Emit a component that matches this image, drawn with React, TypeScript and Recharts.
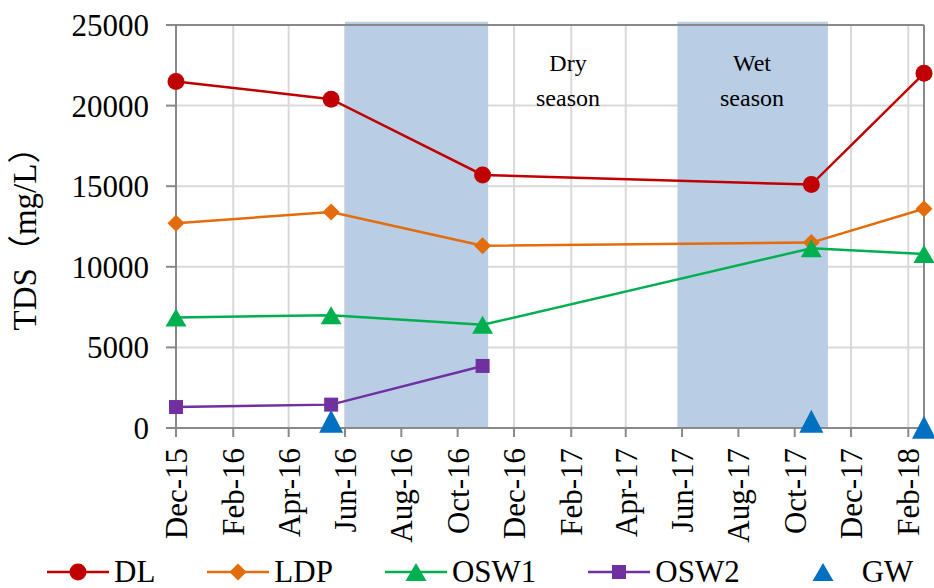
import React from 'react'
import {
  LineChart,
  Line,
  XAxis,
  YAxis,
  CartesianGrid,
  ReferenceArea,
  ReferenceLine,
} from 'recharts'

const sampleDates = ['2015-12-01', '2016-05-17', '2016-10-28', '2017-10-19', '2018-02-18']
const dl = [21500, 20400, 15700, 15100, 22000]
const ldp = [12700, 13400, 11300, 11500, 13600]
const osw1 = [6850, 7000, 6400, 11150, 10800]
const osw2 = [1300, 1450, 3850, null, null]
const gw = [null, 420, null, 420, 40]

const xTicks = [
  '2015-12-01', '2016-02-01', '2016-04-01', '2016-06-01', '2016-08-01', '2016-10-01', '2016-12-01',
  '2017-02-01', '2017-04-01', '2017-06-01', '2017-08-01', '2017-10-01', '2017-12-01', '2018-02-01',
]
const yTicks = [0, 5000, 10000, 15000, 20000, 25000]
const wetSeasons = [
  ['2016-06-01', '2016-11-03'],
  ['2017-05-27', '2017-11-06'],
]

const MONTHS = ['Jan', 'Feb', 'Mar', 'Apr', 'May', 'Jun', 'Jul', 'Aug', 'Sep', 'Oct', 'Nov', 'Dec']
const FONT = "'Liberation Serif', 'Times New Roman', 'Noto Sans CJK SC', serif"
const AXIS = '#898989'
const GRID = '#D9D9D9'
const SHADE = '#B9CDE4'

const ts = (d: string) => Date.parse(d + 'T00:00:00Z')

const data = sampleDates.map((d, i) => ({
  t: ts(d),
  DL: dl[i],
  LDP: ldp[i],
  OSW1: osw1[i],
  OSW2: osw2[i],
  GW: gw[i],
}))

type Shape = 'circle' | 'diamond' | 'triangle' | 'square' | 'bigTriangle'

function marker(shape: Shape, color: string, cx: number, cy: number, key?: React.Key) {
  switch (shape) {
    case 'circle':
      return <circle key={key} cx={cx} cy={cy} r={8.5} fill={color} />
    case 'diamond':
      return (
        <polygon key={key} fill={color}
          points={`${cx},${cy - 8.5} ${cx + 8.5},${cy} ${cx},${cy + 8.5} ${cx - 8.5},${cy}`} />
      )
    case 'triangle':
      return (
        <polygon key={key} fill={color}
          points={`${cx},${cy - 9} ${cx + 10.5},${cy + 9} ${cx - 10.5},${cy + 9}`} />
      )
    case 'bigTriangle':
      return (
        <polygon key={key} fill={color}
          points={`${cx},${cy - 11.5} ${cx + 12},${cy + 11.5} ${cx - 12},${cy + 11.5}`} />
      )
    default:
      return <rect key={key} x={cx - 7} y={cy - 7} width={14} height={14} fill={color} />
  }
}

const makeDot = (shape: Shape, color: string) => (props: any) => {
  const { cx, cy, value, index } = props
  if (cx == null || cy == null || value == null) return <g key={`e-${index}`} />
  return marker(shape, color, cx, cy, `d-${index}`)
}

const series: { key: string; color: string; shape: Shape; line: boolean }[] = [
  { key: 'DL', color: '#C00000', shape: 'circle', line: true },
  { key: 'LDP', color: '#E46C0A', shape: 'diamond', line: true },
  { key: 'OSW1', color: '#00B050', shape: 'triangle', line: true },
  { key: 'OSW2', color: '#7030A0', shape: 'square', line: true },
  { key: 'GW', color: '#0070C0', shape: 'bigTriangle', line: false },
]

function XTick({ x, y, payload }: any) {
  const d = new Date(payload.value)
  const label = `${MONTHS[d.getUTCMonth()]}-${String(d.getUTCFullYear()).slice(2)}`
  return (
    <g transform={`translate(${x},${y})`}>
      <text transform="rotate(-90)" textAnchor="end" dy="0.35em" fontSize={31}
        fontFamily={FONT} fill="#000">
        {label}
      </text>
    </g>
  )
}

function Legend() {
  return (
    <div style={{
      position: 'absolute', left: 47, top: 552, height: 40, display: 'flex',
      alignItems: 'center', fontFamily: FONT, fontSize: 31, lineHeight: '40px', color: '#000',
    }}>
      {series.map((s) => (
        <div key={s.key} style={{ display: 'flex', alignItems: 'center', marginRight: s.key === 'GW' ? 0 : 52 }}>
          <svg width={62} height={30} style={{ display: 'block' }}>
            {s.line && <line x1={0} x2={62} y1={15} y2={15} stroke={s.color} strokeWidth={2.5} />}
            {marker(s.shape === 'bigTriangle' ? 'triangle' : s.shape, s.color, 31, 15)}
          </svg>
          <span style={{ marginLeft: s.key === 'GW' ? 8 : 5, whiteSpace: 'nowrap' }}>{s.key}</span>
        </div>
      ))}
    </div>
  )
}

const seasonText: React.CSSProperties = {
  position: 'absolute', top: 46, width: 120, textAlign: 'center', fontFamily: FONT,
  fontSize: 24, lineHeight: '35px', color: '#000',
}

export default function App() {
  const xMin = ts(sampleDates[0])
  const xMax = ts(sampleDates[sampleDates.length - 1])
  return (
    <div style={{ position: 'absolute', left: 0, top: 0, width: 934, height: 588, background: '#fff' }}>
      <LineChart width={934} height={588} data={data}
        margin={{ top: 25, right: 10, bottom: 0, left: 0 }}>
        <ReferenceLine y={25000} stroke={AXIS} strokeWidth={2} />
        <ReferenceLine x={xMax} stroke={AXIS} strokeWidth={2} />
        {wetSeasons.map(([a, b]) => (
          <ReferenceArea key={a} x1={ts(a)} x2={ts(b)} y1={0} y2={25200} fill={SHADE}
            fillOpacity={1} stroke="none" ifOverflow="visible" />
        ))}
        <CartesianGrid stroke={GRID} strokeWidth={2} />
        <XAxis dataKey="t" type="number" scale="time" domain={[xMin, xMax]}
          ticks={xTicks.map(ts)} tick={<XTick />} interval={0} height={160}
          stroke={AXIS} strokeWidth={2} tickSize={9} tickMargin={11}
          tickLine={{ stroke: AXIS, strokeWidth: 2 }} />
        <YAxis domain={[0, 25000]} ticks={yTicks} width={176} interval={0}
          stroke={AXIS} strokeWidth={2} tickSize={10} tickMargin={17}
          tickLine={{ stroke: AXIS, strokeWidth: 2 }}
          tick={{ fontSize: 31, fontFamily: FONT, fill: '#000' }}
          label={{
            value: 'TDS（mg/L）', angle: -90, position: 'insideLeft', offset: 0,
            style: { fontSize: 33, fontFamily: FONT, fill: '#000', textAnchor: 'middle' },
            dx: 24, dy: 4,
          }} />
        {series.map((s) => (
          <Line key={s.key} dataKey={s.key} type="linear" stroke={s.line ? s.color : 'none'}
            strokeWidth={2.5} dot={makeDot(s.shape, s.color)} activeDot={false}
            isAnimationActive={false} connectNulls={false} />
        ))}
      </LineChart>
      <div style={{ ...seasonText, left: 568 - 60 }}>Dry<br />season</div>
      <div style={{ ...seasonText, left: 752 - 60 }}>Wet<br />season</div>
      <Legend />
    </div>
  )
}
